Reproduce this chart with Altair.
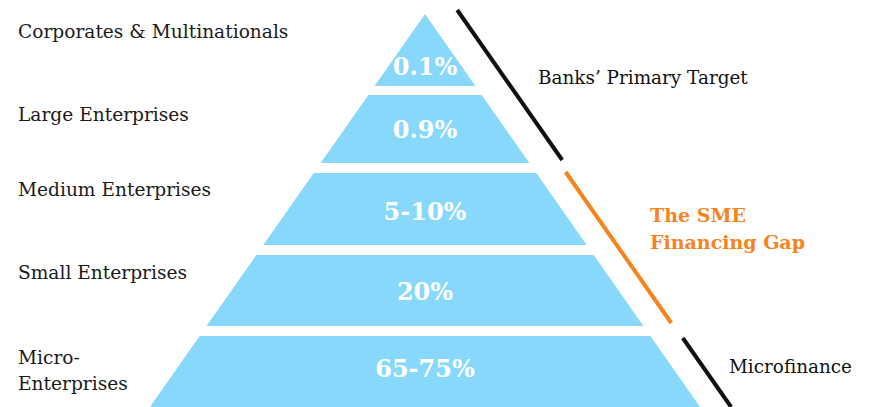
import altair as alt
import pandas as pd

# ---------------- data ----------------
tiers = ["Corporates & Multinationals", "Large Enterprises", "Medium Enterprises",
         "Small Enterprises", "Micro-\nEnterprises"]
shares = ["0.1%", "0.9%", "5-10%", "20%", "65-75%"]
segments = ["Banks’ Primary Target", "The SME\nFinancing Gap", "Microfinance"]
segment_colors = ["#111111", "#F5841F", "#111111"]
segment_weights = ["normal", "bold", "normal"]

# ---------------- layout ----------------
W, H = 870, 407
APEX_X, APEX_Y, SLOPE = 425, 14, 0.70
tier_top = [14, 95, 173, 255, 336]
tier_bot = [86, 163, 245, 326, 407]
share_y = [68, 131, 213, 293, 370]
label_y = [32, 115, 190, 273, 358]
BLUE = "#88D8FB"
SERIF = "DejaVu Serif"


def half(y):
    return SLOPE * (y - APEX_Y)


poly_rows = []
for i, t in enumerate(tiers):
    for y in (tier_top[i], tier_bot[i]):
        poly_rows.append({"tier": i, "y": y, "xl": APEX_X - half(y), "xr": APEX_X + half(y)})
poly = pd.DataFrame(poly_rows)

share_df = pd.DataFrame({"txt": shares, "x": [APEX_X] * 5, "y": share_y})
label_df = pd.DataFrame({"txt": tiers, "x": [18] * 5, "y": label_y})

# bracket segments along the right side of the pyramid
seg_y = [(10, 160), (172, 323), (338, 407)]
seg_off = [35, 30, 31]
seg_rows = []
for (y0, y1), off, c in zip(seg_y, seg_off, segment_colors):
    seg_rows.append({"x": APEX_X + half(y0) + off, "y": y0,
                     "x2": APEX_X + half(y1) + off, "y2": y1, "c": c})
seg_df = pd.DataFrame(seg_rows)

ann_pos = [(538, 78), (650, 216), (729, 367)]
ann_df = pd.DataFrame({"txt": segments, "x": [p[0] for p in ann_pos],
                       "y": [p[1] for p in ann_pos], "c": segment_colors,
                       "w": segment_weights})

xs = alt.Scale(domain=[0, W], range=[0, W])
ys = alt.Scale(domain=[0, H], range=[0, H])

area = alt.Chart(poly).mark_area(orient="horizontal", color=BLUE, opacity=1).encode(
    y=alt.Y("y:Q", scale=ys, axis=None),
    x=alt.X("xl:Q", scale=xs, axis=None),
    x2="xr:Q",
    detail="tier:N",
)

share_txt = alt.Chart(share_df).mark_text(
    font=SERIF, fontSize=24, fontWeight="bold", color="white", align="center", baseline="middle"
).encode(x=alt.X("x:Q", scale=xs, axis=None), y=alt.Y("y:Q", scale=ys, axis=None), text="txt:N")

label_txt = alt.Chart(label_df).mark_text(
    font=SERIF, fontSize=18.6, color="#1a1a1a", align="left", baseline="middle",
    lineBreak="\n", lineHeight=26
).encode(x=alt.X("x:Q", scale=xs, axis=None), y=alt.Y("y:Q", scale=ys, axis=None), text="txt:N")

segs = alt.Chart(seg_df).mark_rule(strokeWidth=4).encode(
    x=alt.X("x:Q", scale=xs, axis=None), y=alt.Y("y:Q", scale=ys, axis=None),
    x2="x2:Q", y2="y2:Q", color=alt.Color("c:N", scale=None),
)

ann_norm = alt.Chart(ann_df[ann_df.w == "normal"]).mark_text(
    font=SERIF, fontSize=18.4, align="left", baseline="middle", lineBreak="\n", lineHeight=27
).encode(x=alt.X("x:Q", scale=xs, axis=None), y=alt.Y("y:Q", scale=ys, axis=None),
         text="txt:N", color=alt.Color("c:N", scale=None))

ann_bold = alt.Chart(ann_df[ann_df.w == "bold"]).mark_text(
    font=SERIF, fontSize=19, fontWeight="bold", align="left", baseline="middle",
    lineBreak="\n", lineHeight=27
).encode(x=alt.X("x:Q", scale=xs, axis=None), y=alt.Y("y:Q", scale=ys, axis=None),
         text="txt:N", color=alt.Color("c:N", scale=None))

chart = alt.layer(area, share_txt, label_txt, segs, ann_norm, ann_bold).properties(
    width=W, height=H, autosize=alt.AutoSizeParams(type="none"), padding=0,
    background="white"
).configure_view(stroke=None)

chart.save("out.html", embed_options={"renderer": "svg", "actions": False})
